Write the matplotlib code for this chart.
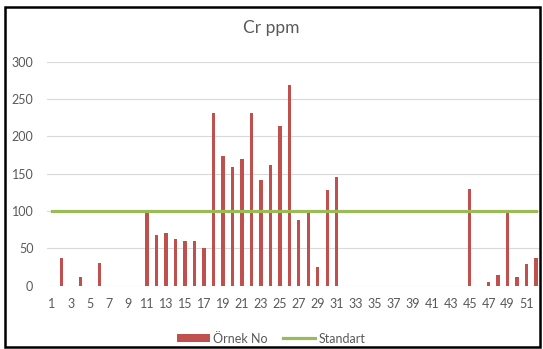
import matplotlib
matplotlib.use("Agg")
import matplotlib.pyplot as plt
from matplotlib.patches import Rectangle

plt.rcParams['font.family'] = ['Lato', 'DejaVu Sans']

samples = list(range(1, 53))
cr_values = [0, 37, 0, 12, 0, 31, 0, 0, 0, 0,
             99, 68, 70, 63, 60, 60, 51, 231, 173, 159,
             170, 231, 142, 162, 214, 269, 88, 100, 25, 128,
             146, 0, 0, 0, 0, 0, 0, 0, 0, 0,
             0, 0, 0, 0, 130, 0, 5, 14, 100, 11,
             29, 37]
standard = [100] * len(samples)
tick_labels = [str(i) if i % 2 == 1 else "" for i in samples]
yticks = [0, 50, 100, 150, 200, 250, 300]

fig = plt.figure(figsize=(5.43, 3.49), dpi=100)
ax = fig.add_axes([0.087, 0.1814, 0.909, 0.642])

bars = ax.bar(samples, cr_values, width=0.36, color='#c0504d', label='Örnek No', zorder=2)
line, = ax.plot(samples, standard, color='#9bbb59', linewidth=2.3, label='Standart', zorder=3)

ax.set_xlim(0.5, 52.5)
ax.set_ylim(0, 300)
ax.set_yticks(yticks)
ax.set_xticks(samples)
ax.set_xticklabels(tick_labels)
ax.tick_params(axis='both', length=0, colors='#595959', labelsize=9)
ax.tick_params(axis='x', pad=9)
ax.tick_params(axis='y', pad=10)
ax.grid(axis='y', color='#d9d9d9', linewidth=0.8, zorder=0)
for s in ax.spines.values():
    s.set_visible(False)

fig.text(0.5, 0.92, 'Cr ppm', ha='center', va='center', fontsize=12.5, color='#595959')

fig.legend([bars, line], ['Örnek No', 'Standart'], loc='center', bbox_to_anchor=(0.5, 0.03),
           ncol=2, frameon=False, fontsize=9, handlelength=2.6, handleheight=0.6,
           columnspacing=1.2, handletextpad=0.3, labelcolor='#595959')

fig.add_artist(Rectangle((5/543, 2/349), 535/543, 340/349, transform=fig.transFigure,
                         fill=False, edgecolor='black', linewidth=1.8))

fig.savefig('out.png', dpi=100)
